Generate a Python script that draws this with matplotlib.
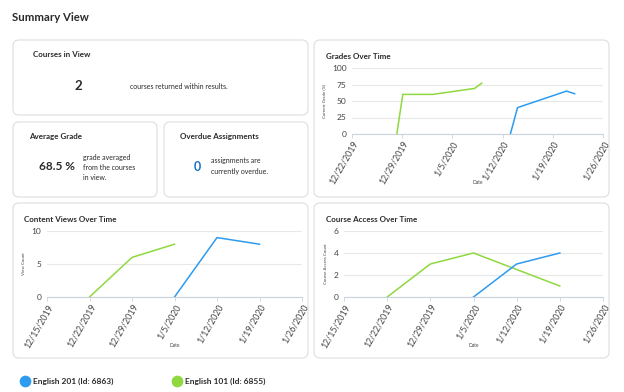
import matplotlib
matplotlib.use("Agg")
import matplotlib.pyplot as plt
import matplotlib.dates as mdates
from matplotlib.patches import FancyBboxPatch
from matplotlib.ticker import FuncFormatter
import pandas as pd

plt.rcParams['font.family'] = ['Lato', 'DejaVu Sans']

BLUE = '#2d9bef'
GREEN = '#8fd83f'
TXT = '#2a2a2a'

# Series names
courses = ['English 201 (Id: 6863)', 'English 101 (Id: 6855)']

# Grades over time (%)
grade_dates_201 = ['2020-01-13 02:00', '2020-01-14 02:00', '2020-01-20 22:00', '2020-01-22 01:00']
grade_vals_201 = [0, 40, 65, 61]
grade_dates_101 = ['2019-12-28 06:00', '2019-12-29 02:00', '2020-01-02 06:00', '2020-01-08 02:00', '2020-01-09 02:00']
grade_vals_101 = [0, 60, 60, 69, 77]

# Content views over time
views_dates_201 = ['2020-01-05', '2020-01-12', '2020-01-19']
views_vals_201 = [0, 9, 8]
views_dates_101 = ['2019-12-22', '2019-12-29', '2020-01-05']
views_vals_101 = [0, 6, 8]

# Course access over time
access_dates_201 = ['2020-01-05', '2020-01-12', '2020-01-19']
access_vals_201 = [0, 3, 4]
access_dates_101 = ['2019-12-22', '2019-12-29', '2020-01-05', '2020-01-19']
access_vals_101 = [0, 3, 4, 1]

W, H = 624, 392
fig = plt.figure(figsize=(W / 100, H / 100), dpi=100)
fig.patch.set_facecolor('white')

bg = fig.add_axes([0, 0, 1, 1])
bg.set_xlim(0, W)
bg.set_ylim(H, 0)
bg.axis('off')


def card(x0, y0, x1, y1):
    bg.add_patch(FancyBboxPatch((x0, y0), x1 - x0, y1 - y0,
                                boxstyle='round,pad=0,rounding_size=6',
                                fc='white', ec='#dedede', lw=0.8))


card(13, 40, 308, 115)
card(13, 122, 157, 197)
card(164, 122, 308, 197)
card(314, 40, 609, 197)
card(13, 203, 308, 358)
card(314, 203, 609, 358)

bg.text(12, 17, 'Summary View', fontsize=8.2, fontweight='bold', color=TXT, va='center')

bg.text(33, 54, 'Courses in View', fontsize=5.8, fontweight='bold', color=TXT, va='center')
bg.text(78, 86, '2', fontsize=9.5, fontweight='bold', color=TXT, va='center', ha='center')
bg.text(130, 86, 'courses returned within results.', fontsize=5, color=TXT, va='center')

bg.text(29, 136, 'Average Grade', fontsize=5.8, fontweight='bold', color=TXT, va='center')
bg.text(57, 166, '68.5 %', fontsize=8.5, fontweight='bold', color=TXT, va='center', ha='center')
bg.text(83, 167, 'grade averaged\nfrom the courses\nin view.', fontsize=5, color=TXT,
        va='center', linespacing=1.5)

bg.text(180, 136, 'Overdue Assignments', fontsize=5.8, fontweight='bold', color=TXT, va='center')
bg.text(197, 167, '0', fontsize=9, fontweight='bold', color='#1a73c8', va='center', ha='center')
bg.text(211, 166, 'assignments are\ncurrently overdue.', fontsize=5, color=TXT,
        va='center', linespacing=1.6)

bg.text(326, 56, 'Grades Over Time', fontsize=5.8, fontweight='bold', color=TXT, va='center')
bg.text(24, 219, 'Content Views Over Time', fontsize=5.8, fontweight='bold', color=TXT, va='center')
bg.text(326, 219, 'Course Access Over Time', fontsize=5.8, fontweight='bold', color=TXT, va='center')

# legend
bg.scatter([25], [381], s=55, color=BLUE, zorder=3)
bg.text(33, 381, courses[0], fontsize=6, fontweight='bold', color=TXT, va='center')
bg.scatter([177], [381], s=55, color=GREEN, zorder=3)
bg.text(185, 381, courses[1], fontsize=6, fontweight='bold', color=TXT, va='center')


def date_fmt(x, pos):
    d = mdates.num2date(x)
    return f'{d.month}/{d.day}/{d.year}'


def chart(px0, px1, ptop, pbot, dates201, vals201, dates101, vals101,
          xstart, ymax, yticks, ylabel):
    ax = fig.add_axes([px0 / W, 1 - pbot / H, (px1 - px0) / W, (pbot - ptop) / H])
    ax.plot(pd.to_datetime(dates101), vals101, color=GREEN, lw=1.1)
    ax.plot(pd.to_datetime(dates201), vals201, color=BLUE, lw=1.1)
    ticks = pd.date_range(xstart, '2020-01-26', freq='7D')
    ax.set_xlim(ticks[0], ticks[-1])
    ax.set_xticks(ticks)
    ax.xaxis.set_major_formatter(FuncFormatter(date_fmt))
    ax.set_ylim(0, ymax)
    ax.set_yticks(yticks)
    ax.grid(axis='y', color='#e8e8e8', lw=0.8)
    ax.set_axisbelow(True)
    for s in ['top', 'right', 'left']:
        ax.spines[s].set_visible(False)
    ax.spines['bottom'].set_color('#c9d3e0')
    ax.spines['bottom'].set_linewidth(0.8)
    ax.tick_params(axis='x', colors='#c9d3e0', length=3, width=0.6, pad=1,
                   labelsize=6.3, labelcolor='#444444', labelrotation=60)
    ax.tick_params(axis='y', length=0, pad=4, labelsize=6, labelcolor='#444444')
    for lb in ax.get_xticklabels():
        lb.set_ha('right')
        lb.set_rotation_mode('anchor')
    ax.set_xlabel('Date', fontsize=3.5, color='#444444', va='center')
    ax.xaxis.set_label_coords(0.5, -0.73)
    ax.set_ylabel(ylabel, fontsize=3.2, color='#444444', labelpad=4)
    return ax


chart(352, 603, 68, 134, grade_dates_201, grade_vals_201, grade_dates_101, grade_vals_101,
      '2019-12-22', 100, [0, 25, 50, 75, 100], 'Current Grade (%)')
chart(47, 302, 231, 297, views_dates_201, views_vals_201, views_dates_101, views_vals_101,
      '2019-12-15', 10, [0, 5, 10], 'View Count')
chart(344, 603, 231, 297, access_dates_201, access_vals_201, access_dates_101, access_vals_101,
      '2019-12-15', 6, [0, 2, 4, 6], 'Course Access Count')

fig.savefig('out.png', dpi=100, facecolor='white')
